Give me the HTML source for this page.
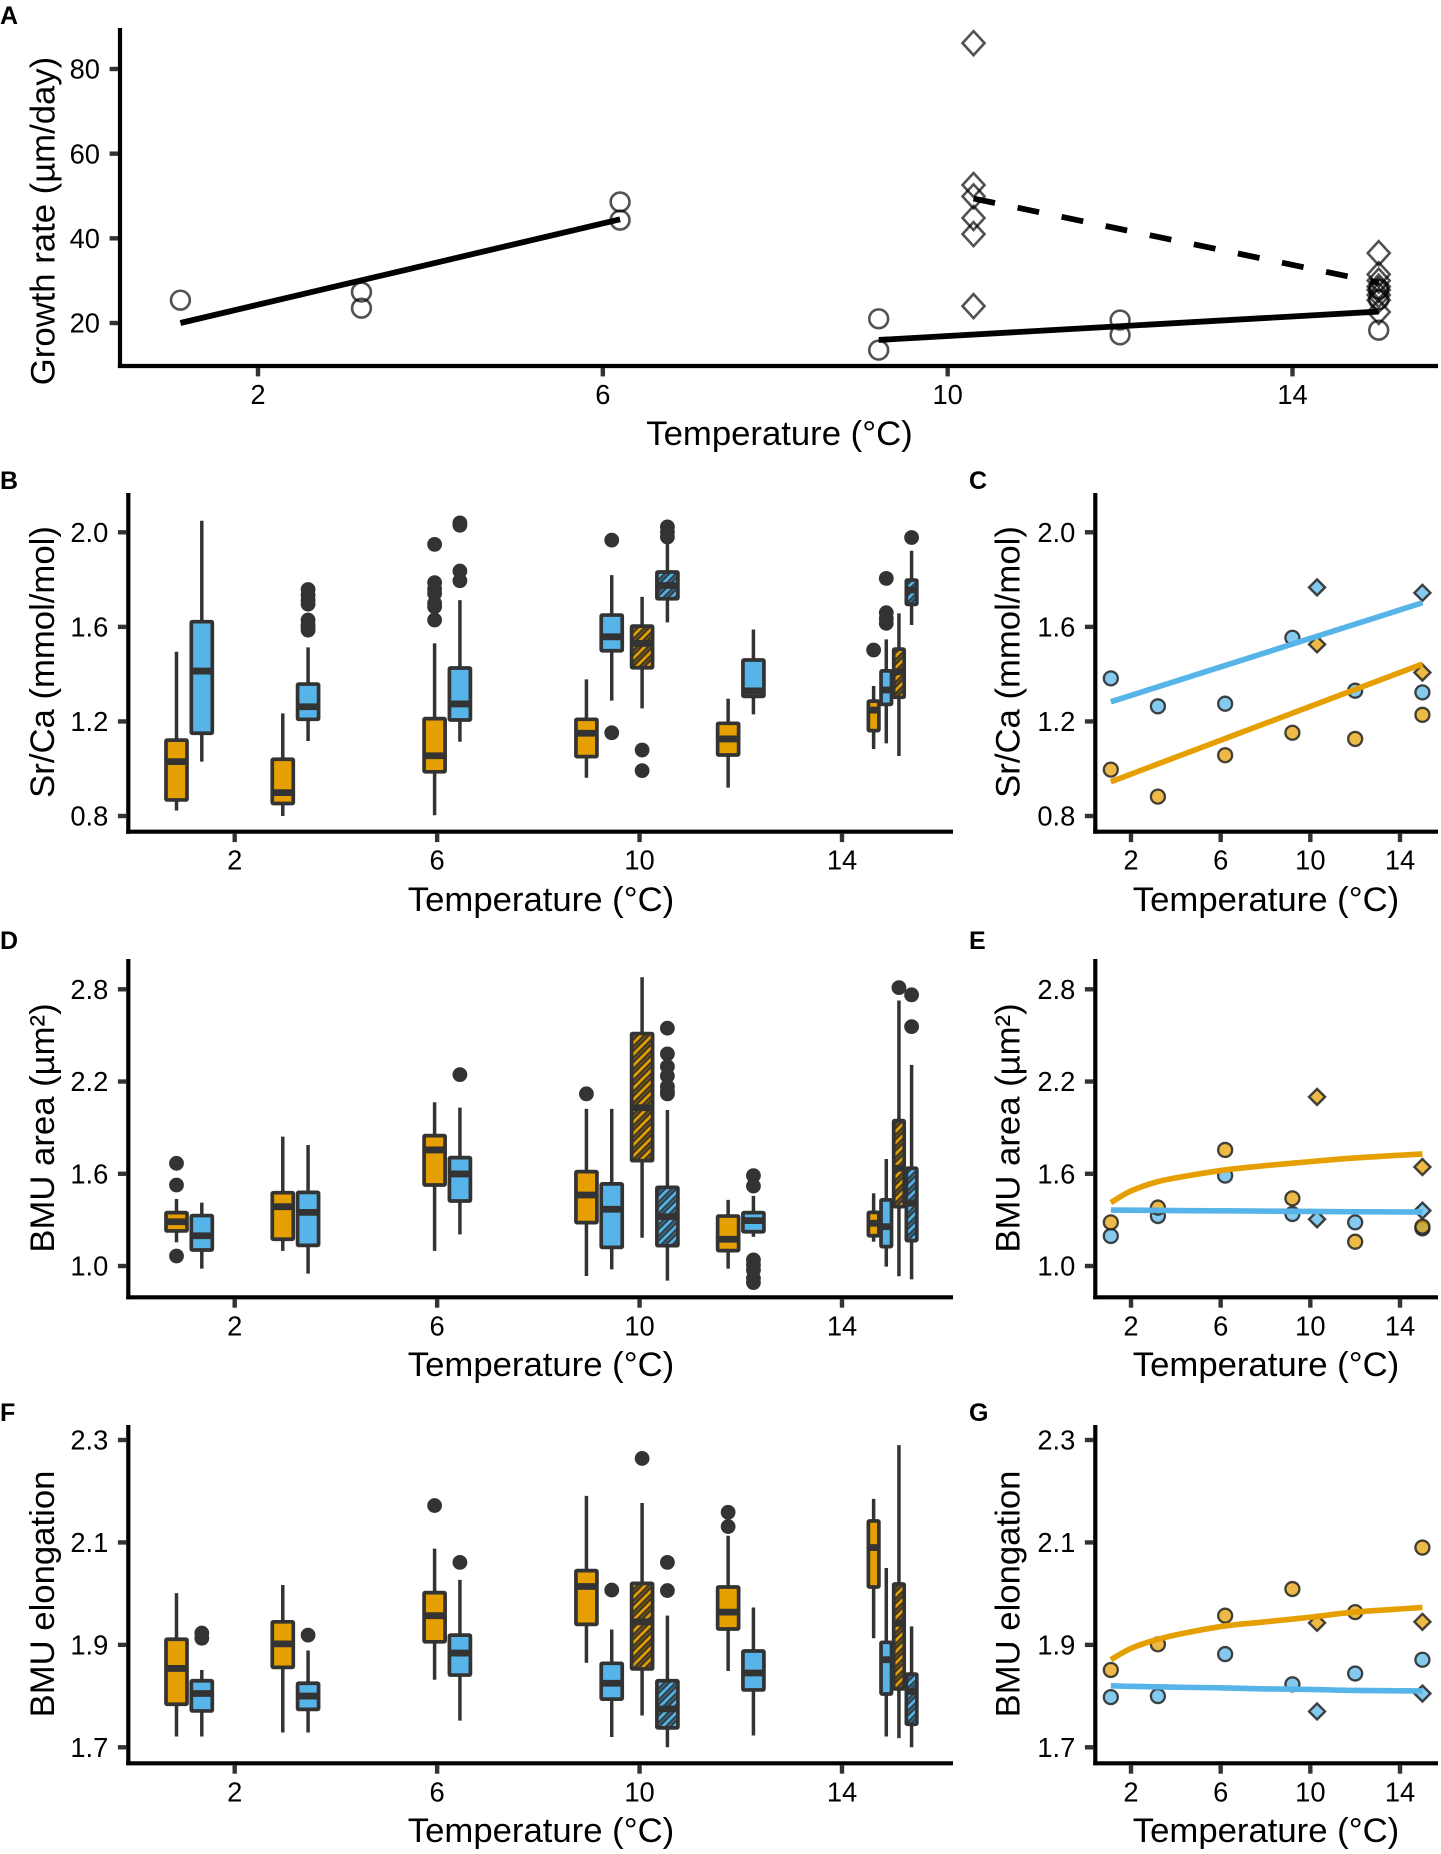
<!DOCTYPE html>
<html lang="en">
<head>
<meta charset="utf-8">
<title>Temperature response of growth rate, Sr/Ca, BMU area and BMU elongation</title>
<style>
  html, body { margin: 0; padding: 0; background: #ffffff; }
  svg { display: block; }
  text { font-family: "Liberation Sans", sans-serif; fill: #000; }
  .title { font-size: 34.7px; }
  .tick { font-size: 27.3px; }
  .letter { font-size: 25px; font-weight: bold; }
</style>
</head>
<body>
<svg id="figure" xmlns="http://www.w3.org/2000/svg" width="1441" height="1854" viewBox="0 0 1441 1854">
  <defs>
    <pattern id="hatch-orange" patternUnits="userSpaceOnUse" width="8" height="8" patternTransform="rotate(45)">
      <rect width="8" height="8" fill="#3d3626"></rect>
      <rect x="4.6" width="1.4" height="8" fill="#6e5518"></rect>
      <rect width="2.6" height="8" fill="#E69F00"></rect>
    </pattern>
    <pattern id="hatch-blue" patternUnits="userSpaceOnUse" width="8" height="8" patternTransform="rotate(45)">
      <rect width="8" height="8" fill="#2f3f4a"></rect>
      <rect x="4.6" width="1.4" height="8" fill="#3f6a84"></rect>
      <rect width="2.6" height="8" fill="#56B4E9"></rect>
    </pattern>
  </defs>
  <rect width="1441" height="1854" fill="#ffffff"></rect>

  <g id="panel-a">
    <text class="letter" x="0" y="24">A</text>
    <text class="title" transform="translate(54.5,221) rotate(-90)" text-anchor="middle">Growth rate (µm/day)</text>
    <text class="title" x="779.5" y="445" text-anchor="middle">Temperature (°C)</text>
  </g>
  <g id="panel-b">
    <text class="letter" x="0" y="489">B</text>
    <text class="title" transform="translate(54,662) rotate(-90)" text-anchor="middle">Sr/Ca (mmol/mol)</text>
    <text class="title" x="541" y="911" text-anchor="middle">Temperature (°C)</text>
  </g>
  <g id="panel-c">
    <text class="letter" x="969" y="489">C</text>
    <text class="title" transform="translate(1019.5,662) rotate(-90)" text-anchor="middle">Sr/Ca (mmol/mol)</text>
    <text class="title" x="1266" y="911" text-anchor="middle">Temperature (°C)</text>
  </g>
  <g id="panel-d">
    <text class="letter" x="0" y="949">D</text>
    <text class="title" transform="translate(54,1128) rotate(-90)" text-anchor="middle">BMU area (µm²)</text>
    <text class="title" x="541" y="1376" text-anchor="middle">Temperature (°C)</text>
  </g>
  <g id="panel-e">
    <text class="letter" x="969" y="949">E</text>
    <text class="title" transform="translate(1019.5,1128) rotate(-90)" text-anchor="middle">BMU area (µm²)</text>
    <text class="title" x="1266" y="1376" text-anchor="middle">Temperature (°C)</text>
  </g>
  <g id="panel-f">
    <text class="letter" x="0" y="1421">F</text>
    <text class="title" transform="translate(54,1594) rotate(-90)" text-anchor="middle">BMU elongation</text>
    <text class="title" x="541" y="1842" text-anchor="middle">Temperature (°C)</text>
  </g>
  <g id="panel-g">
    <text class="letter" x="969" y="1421">G</text>
    <text class="title" transform="translate(1019.5,1594) rotate(-90)" text-anchor="middle">BMU elongation</text>
    <text class="title" x="1266" y="1842" text-anchor="middle">Temperature (°C)</text>
  </g>
</svg>

<script>
/* ---------- shared categories and tick labels ---------- */
const xTickValues = [2, 6, 10, 14];
const growthTicks = [20, 40, 60, 80];
const srCaTicks = [0.8, 1.2, 1.6, 2.0];
const areaTicks = [1.0, 1.6, 2.2, 2.8];
const elongationTicks = [1.7, 1.9, 2.1, 2.3];

/* ---------- panel A: growth rate ---------- */
const growthCircleTemps = [1.1, 3.2, 3.2, 6.2, 6.2, 9.2, 9.2, 12, 12, 15, 15, 15];
const growthCircleValues = [25.4, 27.3, 23.5, 48.6, 44.3, 21, 13.6, 20.7, 17.2, 28, 25.5, 18.3];
const growthDiamondTemps = [10.3, 10.3, 10.3, 10.3, 10.3, 10.3, 15, 15, 15, 15, 15, 15, 15, 15];
const growthDiamondValues = [86.1, 52.6, 49.9, 44.8, 41, 24, 36.5, 31.5, 30, 28.6, 27.8, 26.6, 25.4, 22.6];
const growthFitColdTemps = [1.1, 6.2];
const growthFitColdValues = [20, 44.5];
const growthFitWarmTemps = [9.2, 15];
const growthFitWarmValues = [16, 22.7];
const growthFitDiamondTemps = [10.3, 15];
const growthFitDiamondValues = [49.4, 29.5];

/* ---------- boxplot categories (same 16 boxes in panels B, D, F) ---------- */
const boxTemps = [1.1, 1.1, 3.2, 3.2, 6.2, 6.2, 9.2, 9.2, 10.3, 10.3, 12, 12, 15, 15, 15, 15];
const boxSpecies = ['orange', 'blue', 'orange', 'blue', 'orange', 'blue', 'orange', 'blue', 'orange', 'blue', 'orange', 'blue', 'orange', 'blue', 'orange', 'blue'];
const boxHatched = [0, 0, 0, 0, 0, 0, 0, 0, 1, 1, 0, 0, 0, 0, 1, 1];

/* ---------- panel B: Sr/Ca boxes ---------- */
const srCaWhiskerLow = [0.823, 1.03, 0.8, 1.117, 0.803, 1.114, 0.962, 1.288, 1.255, 1.619, 0.92, 1.23, 1.083, 1.107, 1.054, 1.608];
const srCaQ1 = [0.868, 1.15, 0.853, 1.209, 0.987, 1.206, 1.051, 1.499, 1.427, 1.719, 1.058, 1.306, 1.161, 1.272, 1.302, 1.695];
const srCaMedian = [1.03, 1.413, 0.899, 1.262, 1.055, 1.274, 1.15, 1.558, 1.53, 1.775, 1.126, 1.329, 1.248, 1.333, 1.41, 1.756];
const srCaQ3 = [1.121, 1.622, 1.04, 1.358, 1.212, 1.426, 1.209, 1.65, 1.603, 1.832, 1.192, 1.46, 1.286, 1.414, 1.506, 1.798];
const srCaWhiskerHigh = [1.495, 2.049, 1.234, 1.513, 1.53, 1.713, 1.378, 1.819, 1.727, 1.953, 1.296, 1.589, 1.35, 1.547, 1.657, 1.922];
const srCaOutliers = [
  [], [], [], [1.758, 1.734, 1.713, 1.696, 1.629, 1.608, 1.6, 1.586],
  [1.949, 1.787, 1.76, 1.741, 1.7, 1.685, 1.629], [2.04, 2.03, 1.836, 1.795],
  [], [1.967, 1.152], [1.079, 0.992], [2.023, 2.0, 1.98], [], [],
  [1.502], [1.805, 1.66, 1.635, 1.615], [], [1.978]
];

/* ---------- panel D: BMU area boxes ---------- */
const areaWhiskerLow = [1.154, 0.983, 1.098, 0.95, 1.098, 1.206, 0.935, 0.978, 1.184, 0.905, 0.983, 1.19, 1.158, 0.996, 0.933, 0.913];
const areaQ1 = [1.228, 1.104, 1.174, 1.134, 1.527, 1.423, 1.282, 1.121, 1.685, 1.132, 1.1, 1.223, 1.197, 1.126, 1.386, 1.165];
const areaMedian = [1.288, 1.197, 1.386, 1.349, 1.755, 1.599, 1.462, 1.369, 2.03, 1.321, 1.174, 1.295, 1.278, 1.256, 1.636, 1.408];
const areaQ3 = [1.347, 1.328, 1.477, 1.479, 1.848, 1.705, 1.614, 1.534, 2.512, 1.512, 1.325, 1.347, 1.349, 1.43, 1.946, 1.636];
const areaWhiskerHigh = [1.436, 1.412, 1.842, 1.787, 2.065, 2.03, 2.022, 2.022, 2.878, 2.015, 1.43, 1.456, 1.473, 1.696, 2.727, 2.308];
const areaOutliers = [
  [1.668, 1.527, 1.065], [], [], [], [], [2.245], [2.12], [], [],
  [2.547, 2.38, 2.297, 2.236, 2.167, 2.134, 2.12], [],
  [1.588, 1.52, 1.04, 1.007, 0.974, 0.92, 0.892], [], [], [2.811], [2.764, 2.557]
];

/* ---------- panel F: BMU elongation boxes ---------- */
const elongationWhiskerLow = [1.721, 1.721, 1.729, 1.729, 1.832, 1.752, 1.865, 1.72, 1.762, 1.7, 1.849, 1.723, 1.913, 1.721, 1.718, 1.7];
const elongationQ1 = [1.784, 1.771, 1.856, 1.774, 1.906, 1.841, 1.94, 1.794, 1.853, 1.738, 1.931, 1.812, 2.013, 1.804, 1.814, 1.745];
const elongationMedian = [1.854, 1.805, 1.902, 1.8, 1.957, 1.884, 2.014, 1.825, 1.945, 1.775, 1.964, 1.845, 2.09, 1.871, 1.942, 1.809];
const elongationQ3 = [1.911, 1.83, 1.945, 1.825, 2.002, 1.919, 2.045, 1.864, 2.02, 1.83, 2.013, 1.888, 2.142, 1.905, 2.019, 1.843];
const elongationWhiskerHigh = [2.001, 1.851, 2.017, 1.889, 2.088, 2.027, 2.191, 1.93, 2.177, 1.957, 2.113, 1.973, 2.185, 2.05, 2.29, 1.936];
const elongationOutliers = [
  [], [1.923, 1.913], [], [1.919], [2.172], [2.061], [], [2.007], [2.264],
  [2.061, 2.006], [2.159, 2.131], [], [], [], [], []
];

/* ---------- scatter categories (panels C, E, G) ---------- */
const meanCircleTemps = [1.1, 3.2, 6.2, 9.2, 12, 15];
const meanDiamondTemps = [10.3, 15];

/* ---------- panel C: Sr/Ca means and fits ---------- */
const srCaBlueCircles = [1.382, 1.264, 1.275, 1.554, 1.33, 1.323];
const srCaBlueDiamonds = [1.767, 1.744];
const srCaOrangeCircles = [0.996, 0.882, 1.057, 1.152, 1.126, 1.228];
const srCaOrangeDiamonds = [1.526, 1.407];
const srCaFitTemps = [1.1, 15];
const srCaFitBlue = [1.283, 1.702];
const srCaFitOrange = [0.945, 1.443];

/* ---------- panel E: BMU area means and fits ---------- */
const areaBlueCircles = [1.195, 1.325, 1.588, 1.338, 1.284, 1.245];
const areaBlueDiamonds = [1.304, 1.36];
const areaOrangeCircles = [1.284, 1.38, 1.755, 1.44, 1.158, 1.256];
const areaOrangeDiamonds = [2.1, 1.644];
const curveFitTemps = [1.1, 2, 3.2, 4.5, 6.2, 8, 10, 12, 15];
const areaFitOrange = [1.412, 1.488, 1.549, 1.586, 1.625, 1.653, 1.679, 1.703, 1.729];
const areaFitBlue = [1.364, 1.363, 1.362, 1.36, 1.359, 1.357, 1.355, 1.353, 1.351];

/* ---------- panel G: BMU elongation means and fits ---------- */
const elongationBlueCircles = [1.798, 1.8, 1.882, 1.823, 1.844, 1.871];
const elongationBlueDiamonds = [1.77, 1.805];
const elongationOrangeCircles = [1.851, 1.901, 1.957, 2.009, 1.964, 2.09];
const elongationOrangeDiamonds = [1.943, 1.945];
const elongationFitOrange = [1.871, 1.893, 1.911, 1.924, 1.937, 1.945, 1.954, 1.964, 1.973];
const elongationFitBlue = [1.82, 1.819, 1.818, 1.817, 1.816, 1.814, 1.813, 1.811, 1.81];

/* ---------- helpers ---------- */
const SVG_NS = 'http://www.w3.org/2000/svg';
const ORANGE = '#E69F00';
const BLUE = '#56B4E9';
const DARK = '#333333';

function make(parent, tag, attrs) {
  const node = document.createElementNS(SVG_NS, tag);
  for (const key in attrs) node.setAttribute(key, attrs[key]);
  parent.appendChild(node);
  return node;
}

function linearScale(d0, r0, d1, r1) {
  return function (v) { return r0 + (v - d0) * (r1 - r0) / (d1 - d0); };
}

function drawAxes(group, prefix, x, y, left, right, top, bottom, yTicks, yDecimals) {
  let el = make(group, 'line', { x1: left, x2: left, y1: top, y2: bottom + 2, stroke: '#000', 'stroke-width': 4.2 });
  
  
  el = make(group, 'line', { x1: left - 2.1, x2: right, y1: bottom, y2: bottom, stroke: '#000', 'stroke-width': 4.2 });
  
  
  xTickValues.forEach(function (t) {
    el = make(group, 'line', { x1: x(t), x2: x(t), y1: bottom + 2, y2: bottom + 10.4, stroke: DARK, 'stroke-width': 4.4 });
    
    
    el = make(group, 'text', { x: x(t), y: bottom + 38, 'text-anchor': 'middle', class: 'tick' });
    el.textContent = String(t);
    
    
  });
  yTicks.forEach(function (v) {
    el = make(group, 'line', { x1: left - 2, x2: left - 10.4, y1: y(v), y2: y(v), stroke: DARK, 'stroke-width': 4.4 });
    
    
    el = make(group, 'text', { x: left - 20, y: y(v) + 9.7, 'text-anchor': 'end', class: 'tick' });
    el.textContent = v.toFixed(yDecimals);
    
    
  });
}

function diamondPoints(cx, cy, hw, hh) {
  return [cx, cy - hh, cx + hw, cy, cx, cy + hh, cx - hw, cy].join(',');
}

function drawBoxes(group, prefix, x, y, low, q1, median, q3, high, outliers) {
  boxTemps.forEach(function (t, i) {
    const sameTemp = [];
    boxTemps.forEach(function (other, j) { if (other === t) sameTemp.push(j); });
    const n = sameTemp.length;
    const spacing = n === 2 ? 0.5 : 0.25;
    const offset = (sameTemp.indexOf(i) - (n - 1) / 2) * spacing;
    const cx = x(t + offset);
    const halfWidth = (x(t + spacing * 0.83) - x(t)) / 2;
    const species = boxSpecies[i];
    const fill = boxHatched[i]
      ? 'url(#hatch-' + species + ')'
      : (species === 'orange' ? ORANGE : BLUE);

    const box = make(group, 'g', {});
    
    

    let el = make(box, 'line', { x1: cx, x2: cx, y1: y(low[i]), y2: y(high[i]), stroke: DARK, 'stroke-width': 3.5 });
    
    

    el = make(box, 'rect', {
      x: cx - halfWidth, width: halfWidth * 2,
      y: y(q3[i]), height: y(q1[i]) - y(q3[i]),
      fill: fill, stroke: DARK, 'stroke-width': 3.7, rx: 1
    });
    
    

    el = make(box, 'line', { x1: cx - halfWidth, x2: cx + halfWidth, y1: y(median[i]), y2: y(median[i]), stroke: DARK, 'stroke-width': 6.8 });
    
    

    outliers[i].forEach(function (v) {
      el = make(box, 'circle', { cx: cx, cy: y(v), r: 7.4, fill: DARK });
      
      
    });
  });
}

function drawMeans(group, prefix, species, x, y, circles, diamonds) {
  const fill = species === 'orange' ? ORANGE : BLUE;
  meanCircleTemps.forEach(function (t, i) {
    const el = make(group, 'circle', {
      cx: x(t), cy: y(circles[i]), r: 7,
      fill: fill, 'fill-opacity': 0.72, stroke: '#222', 'stroke-opacity': 0.85, 'stroke-width': 2.3
    });
    
    
  });
  meanDiamondTemps.forEach(function (t, i) {
    const el = make(group, 'polygon', {
      points: diamondPoints(x(t), y(diamonds[i]), 8, 8),
      fill: fill, 'fill-opacity': 0.72, stroke: '#222', 'stroke-opacity': 0.85, 'stroke-width': 2.4
    });
    
    
  });
}

function fitPath(x, y, temps, values) {
  const pts = temps.map(function (t, i) { return [x(t), y(values[i])]; });
  let d = 'M' + pts[0][0].toFixed(2) + ' ' + pts[0][1].toFixed(2);
  for (let i = 0; i < pts.length - 1; i++) {
    const p0 = pts[Math.max(i - 1, 0)];
    const p1 = pts[i];
    const p2 = pts[i + 1];
    const p3 = pts[Math.min(i + 2, pts.length - 1)];
    const c1x = p1[0] + (p2[0] - p0[0]) / 6;
    const c1y = p1[1] + (p2[1] - p0[1]) / 6;
    const c2x = p2[0] - (p3[0] - p1[0]) / 6;
    const c2y = p2[1] - (p3[1] - p1[1]) / 6;
    d += ' C' + c1x.toFixed(2) + ' ' + c1y.toFixed(2) + ' ' + c2x.toFixed(2) + ' ' + c2y.toFixed(2) + ' ' + p2[0].toFixed(2) + ' ' + p2[1].toFixed(2);
  }
  return d;
}

/* ---------- axis functions ---------- */
const xA = linearScale(2, 258, 14, 1292.5);
const yA = linearScale(20, 323, 80, 69);
const xBox = linearScale(2, 234.7, 14, 842);
const xMean = linearScale(2, 1131, 14, 1400);
const ySrCa = linearScale(0.8, 816, 2.0, 532.3);
const yArea = linearScale(1.0, 1266, 2.8, 989.3);
const yElongation = linearScale(1.7, 1747.3, 2.3, 1440);

/* ---------- panel A ---------- */
(function () {
  const group = document.getElementById('panel-a');
  drawAxes(group, 'panel-a', xA, yA, 120, 1438, 28, 366, growthTicks, 0);
  growthCircleTemps.forEach(function (t, i) {
    const el = make(group, 'circle', {
      cx: xA(t), cy: yA(growthCircleValues[i]), r: 9.4,
      fill: 'none', stroke: '#000', 'stroke-opacity': 0.68, 'stroke-width': 2.6
    });
    
    
  });
  growthDiamondTemps.forEach(function (t, i) {
    const el = make(group, 'polygon', {
      points: diamondPoints(xA(t), yA(growthDiamondValues[i]), 11, 12),
      fill: 'none', stroke: '#000', 'stroke-opacity': 0.68, 'stroke-width': 2.6
    });
    
    
  });
  let fit = make(group, 'path', { d: fitPath(xA, yA, growthFitColdTemps, growthFitColdValues), fill: 'none', stroke: '#000', 'stroke-width': 5.8 });
  
  
  fit = make(group, 'path', { d: fitPath(xA, yA, growthFitWarmTemps, growthFitWarmValues), fill: 'none', stroke: '#000', 'stroke-width': 5.8 });
  
  
  fit = make(group, 'path', { d: fitPath(xA, yA, growthFitDiamondTemps, growthFitDiamondValues), fill: 'none', stroke: '#000', 'stroke-width': 5.8, 'stroke-dasharray': '22 23' });
  
  
})();

/* ---------- panels B, D, F ---------- */
drawAxes(document.getElementById('panel-b'), 'panel-b', xBox, ySrCa, 128.3, 953, 493, 831.7, srCaTicks, 1);
drawBoxes(document.getElementById('panel-b'), 'panel-b', xBox, ySrCa, srCaWhiskerLow, srCaQ1, srCaMedian, srCaQ3, srCaWhiskerHigh, srCaOutliers);

drawAxes(document.getElementById('panel-d'), 'panel-d', xBox, yArea, 128.3, 953, 959, 1297.3, areaTicks, 1);
drawBoxes(document.getElementById('panel-d'), 'panel-d', xBox, yArea, areaWhiskerLow, areaQ1, areaMedian, areaQ3, areaWhiskerHigh, areaOutliers);

drawAxes(document.getElementById('panel-f'), 'panel-f', xBox, yElongation, 128.3, 953, 1425, 1763.3, elongationTicks, 1);
drawBoxes(document.getElementById('panel-f'), 'panel-f', xBox, yElongation, elongationWhiskerLow, elongationQ1, elongationMedian, elongationQ3, elongationWhiskerHigh, elongationOutliers);

/* ---------- panels C, E, G ---------- */
function drawFits(group, prefix, y, temps, orangeValues, blueValues) {
  let el = make(group, 'path', { d: fitPath(xMean, y, temps, orangeValues), fill: 'none', stroke: ORANGE, 'stroke-width': 5.6 });
  
  
  el = make(group, 'path', { d: fitPath(xMean, y, temps, blueValues), fill: 'none', stroke: BLUE, 'stroke-width': 5.6 });
  
  
}

(function () {
  const group = document.getElementById('panel-c');
  drawAxes(group, 'panel-c', xMean, ySrCa, 1095.3, 1438, 493, 831.7, srCaTicks, 1);
  drawMeans(group, 'panel-c', 'blue', xMean, ySrCa, srCaBlueCircles, srCaBlueDiamonds);
  drawMeans(group, 'panel-c', 'orange', xMean, ySrCa, srCaOrangeCircles, srCaOrangeDiamonds);
  drawFits(group, 'panel-c', ySrCa, srCaFitTemps, srCaFitOrange, srCaFitBlue);
})();

(function () {
  const group = document.getElementById('panel-e');
  drawAxes(group, 'panel-e', xMean, yArea, 1095.3, 1438, 959, 1297.3, areaTicks, 1);
  drawMeans(group, 'panel-e', 'blue', xMean, yArea, areaBlueCircles, areaBlueDiamonds);
  drawMeans(group, 'panel-e', 'orange', xMean, yArea, areaOrangeCircles, areaOrangeDiamonds);
  drawFits(group, 'panel-e', yArea, curveFitTemps, areaFitOrange, areaFitBlue);
})();

(function () {
  const group = document.getElementById('panel-g');
  drawAxes(group, 'panel-g', xMean, yElongation, 1095.3, 1438, 1425, 1763.3, elongationTicks, 1);
  drawMeans(group, 'panel-g', 'blue', xMean, yElongation, elongationBlueCircles, elongationBlueDiamonds);
  drawMeans(group, 'panel-g', 'orange', xMean, yElongation, elongationOrangeCircles, elongationOrangeDiamonds);
  drawFits(group, 'panel-g', yElongation, curveFitTemps, elongationFitOrange, elongationFitBlue);
})();
</script>
</body>
</html>
